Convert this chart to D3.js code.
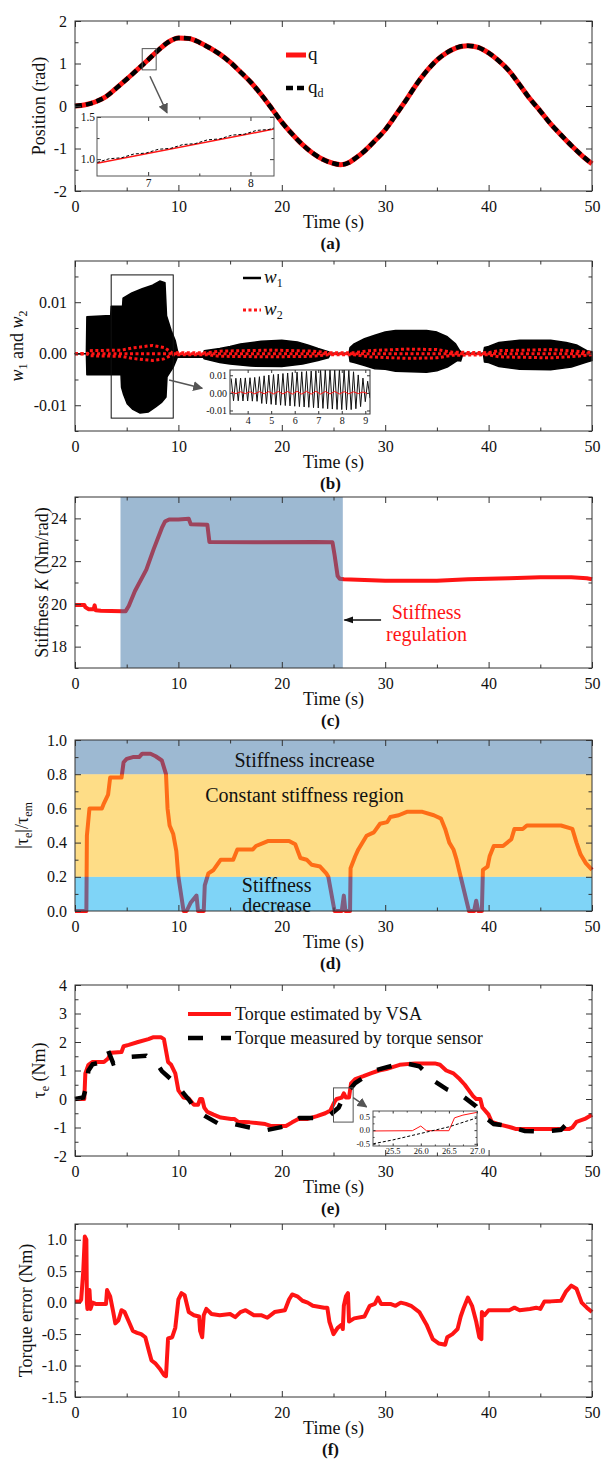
<html>
<head>
<meta charset="utf-8">
<style>
  body { margin: 0; background: #fff; }
</style>
</head>
<body>
<svg id="fig" width="602" height="1459"></svg>
<script src="https://d3js.org/d3.v7.min.js"></script>
<script>
// ---------- data ----------
var timeTicks = [0, 10, 20, 30, 40, 50];
var timeMinor = [5, 15, 25, 35, 45];

// (a) joint position q and desired position q_d  [t, rad]
var qPoints = [[0,0],[1,0.03],[2,0.1],[3,0.22],[4,0.42],[5,0.63],[6,0.85],[7,1.07],[8,1.3],[9,1.5],[10,1.6],[11,1.59],[12,1.5],[13,1.37],[14,1.22],[15,1.03],[16,0.8],[17,0.56],[18,0.27],[19,-0.05],[20,-0.38],[21,-0.66],[22,-0.91],[23,-1.11],[24,-1.26],[25,-1.35],[25.7,-1.38],[26.5,-1.33],[27,-1.25],[28,-1.06],[29,-0.82],[30,-0.56],[31,-0.22],[32,0.13],[33,0.5],[34,0.82],[35,1.08],[36,1.26],[37,1.38],[38,1.42],[39,1.38],[40,1.25],[41,1.06],[42,0.82],[43,0.5],[44,0.17],[45,-0.12],[46,-0.42],[47,-0.68],[48,-0.93],[49,-1.16],[50,-1.36]];
var qdPoints = [[0,0],[1,0.03],[2,0.1],[3,0.22],[4,0.42],[5,0.63],[6,0.85],[7,1.07],[8,1.3],[9,1.5],[10,1.6],[11,1.59],[12,1.5],[13,1.37],[14,1.22],[15,1.03],[16,0.8],[17,0.56],[18,0.27],[19,-0.05],[20,-0.38],[21,-0.66],[22,-0.91],[23,-1.11],[24,-1.26],[25,-1.35],[25.7,-1.38],[26.5,-1.33],[27,-1.25],[28,-1.06],[29,-0.82],[30,-0.56],[31,-0.22],[32,0.13],[33,0.5],[34,0.82],[35,1.08],[36,1.26],[37,1.38],[38,1.42],[39,1.38],[40,1.25],[41,1.06],[42,0.82],[43,0.5],[44,0.17],[45,-0.12],[46,-0.42],[47,-0.68],[48,-0.93],[49,-1.16],[50,-1.36]];
var qInset = [[6.5,0.952],[8.23,1.357]];
var qdInset = [[6.5,0.96],[6.62,1.005],[6.74,1.016],[6.86,1.061],[6.98,1.072],[7.1,1.117],[7.22,1.128],[7.34,1.173],[7.46,1.184],[7.58,1.229],[7.7,1.24],[7.82,1.285],[7.94,1.296],[8.06,1.341],[8.18,1.352],[8.23,1.37]];

// (b) envelopes of w1 and w2
var w1Upper = [[0,0],[1.1,0],[1.15,0.0072],[3.45,0.0074],[3.5,0.0092],[4.6,0.0092],[4.65,0.0108],[5.5,0.0118],[6.5,0.0126],[7.5,0.0133],[8.2,0.0141],[8.7,0.0138],[8.85,0.0074],[9.3,0.0045],[9.7,0.0025],[10.0,-0.0003],[12.4,-0.0003],[12.5,0.0006],[14,0.001],[15,0.0014],[16,0.0019],[18,0.0024],[20,0.0026],[21.5,0.0023],[22.5,0.0017],[23.5,0.001],[24.5,0.0004],[24.7,0.0001],[26.5,0.0001],[26.6,0.0012],[27,0.0019],[28,0.0029],[29,0.0036],[30,0.0042],[31,0.0045],[34,0.0045],[35,0.0042],[36,0.0033],[36.8,0.0019],[37.2,0.0006],[37.5,0.0001],[39.5,0.0001],[39.6,0.0012],[40,0.0014],[41,0.0022],[43,0.0026],[46,0.0026],[47.5,0.0022],[48.5,0.0017],[49.5,0.0006],[50,0.0004]];
var w1Lower = [[0,0],[1.1,0],[1.15,-0.0041],[4.45,-0.0041],[4.5,-0.0065],[4.7,-0.0079],[5.05,-0.0097],[5.6,-0.0108],[6.3,-0.0115],[7.1,-0.0113],[7.8,-0.0103],[8.4,-0.0094],[8.8,-0.0084],[8.9,-0.0045],[9.5,-0.0026],[9.9,-0.0007],[12.4,-0.0007],[12.5,-0.001],[14,-0.0017],[15,-0.002],[17,-0.0024],[20,-0.0025],[22,-0.002],[23.5,-0.0013],[24.5,-0.0008],[24.7,-0.0001],[26.5,-0.0001],[26.6,-0.0015],[27,-0.0017],[28,-0.0023],[29,-0.0029],[30,-0.003],[31,-0.0034],[34,-0.0036],[35,-0.0033],[36,-0.0026],[37,-0.0013],[37.3,-0.0014],[37.5,-0.0001],[39.5,-0.0001],[39.6,-0.0016],[40,-0.0017],[41,-0.0025],[43,-0.003],[46,-0.0031],[48,-0.0026],[49.5,-0.0016],[50,-0.0013]];
var w2Upper = [[0,0],[1.2,0],[1.4,0.0006],[4.5,0.0007],[5.5,0.0011],[7.5,0.0016],[8.6,0.0012],[9.4,0.0002],[12.8,0.0002],[14,0.0005],[19,0.0007],[23,0.0005],[24.5,0.0002],[27,0.0002],[28.5,0.0006],[32,0.0009],[35,0.0008],[36.5,0.0003],[40,0.0002],[41,0.0006],[46,0.0008],[48.5,0.0005],[50,0.0002]];
var w2Lower = [[0,0],[1.2,0],[1.4,-0.0004],[4.5,-0.0005],[5.5,-0.0009],[7.5,-0.0013],[8.6,-0.001],[9.4,-0.0002],[12.8,-0.0002],[14,-0.0005],[19,-0.0006],[23,-0.0005],[24.5,-0.0002],[27,-0.0002],[28.5,-0.0006],[32,-0.0009],[35,-0.0008],[36.5,-0.0003],[40,-0.0002],[41,-0.0006],[46,-0.0008],[48.5,-0.0005],[50,-0.0002]];
var w2Center = [[0,0],[50,0]];
// (b) inset: one peak and one trough per oscillation cycle
var w1InsetStart = 3.3, w1InsetPeriod = 0.2;
var w1InsetPeaks = [0.0082,0.0083,0.0084,0.0085,0.0086,0.0088,0.0092,0.0097,0.0101,0.0104,0.0107,0.011,0.0113,0.0116,0.0118,0.012,0.0122,0.0124,0.0126,0.0128,0.013,0.013,0.0131,0.0131,0.013,0.0128,0.012,0.0102,0.0084,0.0066];
var w1InsetTroughs = [-0.0045,-0.0045,-0.0046,-0.0046,-0.0047,-0.0048,-0.006,-0.0062,-0.0065,-0.0068,-0.007,-0.0072,-0.0074,-0.0076,-0.0078,-0.008,-0.0082,-0.0084,-0.0086,-0.0088,-0.009,-0.0092,-0.0094,-0.0095,-0.0096,-0.0095,-0.009,-0.0078,-0.005,-0.003];
var w2InsetStart = 3.3, w2InsetPeriod = 0.4;
var w2InsetPeaks = [0.0005,0.0006,0.0006,0.0007,0.0007,0.0008,0.0008,0.0009,0.0009,0.0009,0.0008,0.0008,0.0007,0.0006,0.0005];
var w2InsetTroughs = [-0.0004,-0.0004,-0.0005,-0.0005,-0.0006,-0.0006,-0.0007,-0.0007,-0.0007,-0.0007,-0.0006,-0.0006,-0.0005,-0.0004,-0.0004];

// (c) stiffness K [t, Nm/rad]
var stiffness = [[0,19.95],[0.9,19.95],[1.0,19.85],[1.3,19.75],[1.8,19.75],[1.9,19.93],[2.0,19.7],[2.5,19.68],[3.5,19.67],[4.6,19.65],[4.9,19.66],[5.2,19.9],[5.8,20.6],[6.9,21.6],[7.6,22.55],[8.4,23.55],[8.7,23.85],[9.1,23.95],[10,23.95],[11,23.98],[11.2,23.72],[12.8,23.7],[13.0,22.9],[18,22.88],[23.2,22.9],[24.9,22.88],[25.1,22.3],[25.4,21.3],[25.6,21.18],[26,21.15],[30,21.08],[35,21.08],[38,21.15],[42,21.2],[45,21.25],[48,21.25],[49.5,21.2],[50,21.15]];
var regulationSpan = [4.4, 25.9];

// (d) |tau_e| / tau_em
var torqueRatio = [[0,0],[1.1,0],[1.15,0.44],[1.4,0.6],[2.6,0.6],[2.8,0.63],[3.2,0.68],[3.4,0.78],[4.5,0.78],[4.7,0.87],[5.0,0.89],[5.6,0.9],[6.2,0.9],[6.5,0.92],[7.3,0.92],[7.8,0.905],[8.4,0.88],[8.8,0.8],[8.95,0.6],[9.15,0.5],[9.5,0.45],[9.8,0.35],[10.0,0.2],[10.3,0.08],[10.5,0],[10.8,0],[11.2,0.05],[11.75,0.09],[11.9,0],[12.45,0],[12.55,0.15],[12.9,0.22],[13.4,0.24],[14.1,0.3],[15.3,0.3],[15.7,0.36],[17.2,0.36],[17.5,0.38],[18.3,0.4],[18.7,0.41],[20.7,0.41],[21.3,0.39],[21.8,0.31],[22.4,0.3],[22.9,0.27],[23.7,0.26],[24.3,0.22],[24.5,0.2],[25.1,0],[25.8,0],[26.0,0.09],[26.15,0],[26.6,0],[26.65,0.25],[27.1,0.32],[27.4,0.36],[28.2,0.44],[28.9,0.46],[29.5,0.51],[30.2,0.52],[30.5,0.55],[31.3,0.56],[32.1,0.58],[33.6,0.58],[34.7,0.56],[35.4,0.54],[35.8,0.48],[36.2,0.4],[36.6,0.36],[36.9,0.3],[37.3,0.2],[38.1,0],[38.6,0],[38.8,0.06],[39.0,0],[39.35,0],[39.45,0.24],[39.9,0.26],[40.1,0.32],[40.5,0.38],[41.4,0.38],[42.2,0.42],[42.5,0.48],[43.3,0.48],[43.7,0.5],[47,0.5],[48.1,0.48],[48.5,0.4],[48.9,0.33],[49.4,0.28],[50,0.24]];
var bandEdges = [0, 0.2, 0.8, 1.0];
var bandNames = ["Stiffness decrease", "Constant stiffness region", "Stiffness increase"];

// (e) external torque: estimated by VSA vs measured by sensor [t, Nm]
var torqueEstimated = [[0,0],[0.9,0],[1.0,0.9],[1.3,1.2],[1.7,1.3],[2.8,1.3],[3.2,1.42],[3.5,1.62],[4.5,1.65],[4.7,1.85],[5.2,1.9],[6.1,2.0],[7.1,2.1],[7.6,2.17],[8.3,2.17],[8.6,2.1],[9.0,1.3],[9.3,1.2],[9.7,0.9],[10.0,0.3],[10.5,0.05],[11.0,0.02],[11.5,-0.2],[11.9,-0.2],[12.1,0.0],[12.3,0],[12.5,-0.3],[12.8,-0.45],[13.4,-0.55],[14.1,-0.65],[15.1,-0.7],[15.4,-0.7],[15.8,-0.8],[16.9,-0.82],[18.4,-0.88],[19.0,-0.95],[20.4,-0.95],[21.0,-0.82],[21.6,-0.7],[22.5,-0.7],[23.4,-0.6],[24.2,-0.5],[24.7,-0.4],[25.1,-0.1],[25.3,0],[25.8,0.05],[26.0,0.2],[26.2,0.05],[26.5,0.05],[26.7,0.55],[27.1,0.7],[27.9,0.8],[28.6,0.9],[29.4,1.0],[30.1,1.05],[31.4,1.2],[32.9,1.25],[34.8,1.25],[35.3,1.2],[35.9,1.0],[36.6,0.9],[37.2,0.7],[37.7,0.5],[38.5,0.1],[38.8,0],[39.2,0],[39.4,-0.3],[40.0,-0.55],[40.3,-0.8],[41.1,-0.9],[42.2,-1.0],[42.6,-1.05],[47.8,-1.05],[48.1,-1.0],[48.5,-0.8],[49.3,-0.7],[50,-0.55]];
var torqueMeasured = [[0,0],[0.8,0.05],[1.0,0.3],[1.3,1.0],[1.7,1.22],[2.4,1.28],[3.2,1.7],[3.7,1.25],[4.5,1.35],[5.4,1.48],[6.9,1.52],[7.8,1.3],[8.4,0.98],[9.7,0.56],[10.5,0.2],[11.0,-0.02],[11.7,-0.38],[12.6,-0.6],[13.8,-0.85],[15.1,-0.86],[16.9,-1.0],[18.4,-1.1],[20.3,-0.96],[21.7,-0.67],[23.2,-0.67],[24.7,-0.55],[25.5,-0.3],[26.0,0.1],[27.1,0.56],[29,1.0],[30,1.1],[31.8,1.27],[33.3,1.15],[34.8,0.62],[36,0.33],[37.5,0.1],[38.8,-0.26],[39.5,-0.6],[40.5,-0.88],[41.4,-0.92],[43.5,-1.12],[45.2,-1.15],[47,-1.08],[48.1,-0.67],[48.5,-0.55]];
var torqueEstInset = [[25.15,-0.03],[25.85,-0.02],[26.0,0.15],[26.1,-0.02],[26.5,-0.02],[26.6,0.45],[26.75,0.55],[27.0,0.65]];
var torqueMeasInset = [[25.15,-0.5],[25.5,-0.36],[26.0,-0.12],[26.5,0.12],[27.0,0.45]];

// (f) torque error [t, Nm]
var torqueError = [[0,0.02],[0.5,0.02],[0.6,0.05],[0.8,0.5],[0.95,1.05],[1.1,1.0],[1.15,0.0],[1.2,-0.1],[1.4,0.2],[1.5,-0.1],[1.7,0.0],[2.0,-0.02],[3.0,-0.02],[3.1,0.2],[3.4,0.1],[3.7,-0.15],[3.9,-0.33],[4.2,-0.28],[4.5,-0.12],[4.8,-0.15],[5.2,-0.3],[5.6,-0.45],[6.0,-0.48],[6.4,-0.5],[6.8,-0.55],[7.2,-0.8],[7.4,-0.92],[7.8,-0.97],[8.2,-1.05],[8.6,-1.15],[8.8,-1.17],[9.0,-0.57],[9.4,-0.55],[9.7,-0.4],[10.0,0.05],[10.3,0.15],[10.6,0.12],[11.0,-0.15],[11.5,-0.2],[12.0,-0.22],[12.1,-0.45],[12.3,-0.55],[12.45,-0.2],[12.7,-0.1],[13.2,-0.18],[14.0,-0.2],[15.0,-0.18],[15.5,-0.23],[16.0,-0.15],[16.5,-0.12],[17.3,-0.2],[18.0,-0.2],[18.6,-0.24],[19.3,-0.15],[20.3,-0.12],[20.7,0.05],[21.0,0.13],[21.5,0.1],[22.0,0.03],[22.5,0.0],[23.0,-0.05],[24.1,-0.08],[24.4,-0.08],[24.6,-0.3],[25.0,-0.5],[25.4,-0.4],[25.8,-0.35],[25.9,-0.42],[26.0,-0.05],[26.2,0.1],[26.4,0.15],[26.5,-0.3],[27.0,-0.25],[28.0,-0.22],[28.5,-0.05],[29.0,-0.02],[29.3,0.08],[29.6,-0.02],[30.5,-0.02],[31.0,-0.05],[31.5,0.0],[32.0,-0.02],[32.5,-0.05],[33.3,-0.15],[34.0,-0.35],[34.6,-0.58],[35.2,-0.65],[35.8,-0.67],[36.0,-0.55],[36.5,-0.5],[37.0,-0.42],[37.3,-0.22],[37.6,-0.08],[38.0,0.08],[38.4,-0.05],[38.8,-0.3],[39.1,-0.55],[39.3,-0.58],[39.35,-0.15],[39.6,-0.2],[40.0,-0.12],[41.0,-0.12],[42.0,-0.12],[42.5,-0.08],[43.0,-0.12],[44.0,-0.1],[44.6,-0.08],[45.0,-0.1],[45.4,0.02],[46.0,0.02],[47.0,0.03],[47.5,0.18],[48.0,0.27],[48.5,0.22],[49.0,0.0],[49.5,-0.08],[50.0,-0.15]];

// ---------- drawing ----------
var svg = d3.select("#fig");
var serif = '"Liberation Serif", "Times New Roman", serif';
var plotLeft = 75, plotRight = 592;
var RED = "#ff1414";
var locale = d3.formatLocale({decimal: ".", thousands: ",", grouping: [3], currency: ["", ""], minus: "-"});

svg.append("rect").attr("width", 602).attr("height", 1459).attr("fill", "#fff");

var defs = svg.append("defs");
function marker(id, color, path) {
  defs.append("marker").attr("id", id)
    .attr("viewBox", "0 0 10 10").attr("refX", 9).attr("refY", 5)
    .attr("markerWidth", 10).attr("markerHeight", 10)
    .attr("markerUnits", "userSpaceOnUse").attr("orient", "auto")
    .append("path").attr("d", path).attr("fill", color);
}
marker("headGray", "#555", "M0,0 L10,5 L0,10 z");
marker("headBlack", "#111", "M0,1.5 L10,5 L0,8.5 z");

function fmt(f) { return locale.format(f); }

function ticks(g, gen, tx, ty, fs) {
  var a = g.append("g").attr("transform", "translate(" + tx + "," + ty + ")").call(gen);
  a.select(".domain").remove();
  a.selectAll("line").attr("stroke", "#333");
  a.selectAll("text").attr("font-family", serif).attr("font-size", fs).attr("fill", "#111");
  return a;
}

// frame with inward ticks on all four sides
function drawBox(g, x, y, o) {
  var x0 = x.range()[0], x1 = x.range()[1], yb = y.range()[0], yt = y.range()[1];
  var b = g.append("g");
  ticks(b, d3.axisBottom(x).tickValues(o.xTicks).tickSize(-o.major).tickPadding(o.padX).tickFormat(o.xFmt), 0, yb, o.fs);
  ticks(b, d3.axisTop(x).tickValues(o.xTicks).tickSize(-o.major).tickFormat(""), 0, yt, o.fs);
  ticks(b, d3.axisLeft(y).tickValues(o.yTicks).tickSize(-o.major).tickPadding(o.padY).tickFormat(o.yFmt), x0, 0, o.fs);
  ticks(b, d3.axisRight(y).tickValues(o.yTicks).tickSize(-o.major).tickFormat(""), x1, 0, o.fs);
  if (o.xMinor) {
    ticks(b, d3.axisBottom(x).tickValues(o.xMinor).tickSize(-o.minor).tickFormat(""), 0, yb, o.fs);
    ticks(b, d3.axisTop(x).tickValues(o.xMinor).tickSize(-o.minor).tickFormat(""), 0, yt, o.fs);
  }
  if (o.yMinor) {
    ticks(b, d3.axisLeft(y).tickValues(o.yMinor).tickSize(-o.minor).tickFormat(""), x0, 0, o.fs);
    ticks(b, d3.axisRight(y).tickValues(o.yMinor).tickSize(-o.minor).tickFormat(""), x1, 0, o.fs);
  }
  b.append("rect").attr("x", x0).attr("y", yt).attr("width", x1 - x0).attr("height", yb - yt)
    .attr("fill", "none").attr("stroke", o.color || "#333").attr("stroke-width", 1);
}

function makePanel(top, bottom, yDomain) {
  return {
    g: svg.append("g"),
    x: d3.scaleLinear().domain([0, 50]).range([plotLeft, plotRight]),
    y: d3.scaleLinear().domain(yDomain).range([bottom, top]),
    top: top, bottom: bottom
  };
}

function finishPanel(p, o) {
  drawBox(p.g, p.x, p.y, {
    xTicks: timeTicks, xMinor: timeMinor, yTicks: o.yTicks, yMinor: o.yMinor,
    xFmt: fmt("d"), yFmt: fmt(o.yFmt), major: 6, minor: 3.5, padX: 10, padY: 8, fs: 16
  });
  var cx = (plotLeft + plotRight) / 2;
  p.g.append("text").attr("x", cx).attr("y", p.bottom + 37).attr("text-anchor", "middle")
    .attr("font-family", serif).attr("font-size", 18).attr("fill", "#111").text("Time (s)");
  p.g.append("text").attr("x", cx - 3).attr("y", p.bottom + 58).attr("text-anchor", "middle")
    .attr("font-family", serif).attr("font-size", 17).attr("font-weight", "bold").attr("fill", "#111").text(o.label);
  var t = p.g.append("text")
    .attr("transform", "translate(" + o.titleX + "," + (p.top + p.bottom) / 2 + ") rotate(-90)")
    .attr("y", 6).attr("text-anchor", "middle")
    .attr("font-family", serif).attr("font-size", 18).attr("fill", "#111");
  o.title(t);
}

function sub(t, s) { t.append("tspan").attr("dy", 4).attr("font-size", 12).attr("font-style", "normal").text(s); }

function lineOf(p) { return d3.line().x(function(d) { return p.x(d[0]); }).y(function(d) { return p.y(d[1]); }); }

function arrow(p, from, to, head, color, w) {
  p.g.append("line").attr("x1", p.x(from[0])).attr("y1", p.y(from[1])).attr("x2", p.x(to[0])).attr("y2", p.y(to[1]))
    .attr("stroke", color).attr("stroke-width", w).attr("marker-end", "url(#" + head + ")");
}

function zoomRect(p, t0, t1, v0, v1, color) {
  p.g.append("rect").attr("x", p.x(t0)).attr("y", p.y(v1)).attr("width", p.x(t1) - p.x(t0)).attr("height", p.y(v0) - p.y(v1))
    .attr("fill", "none").attr("stroke", color).attr("stroke-width", 1);
}

function makeInset(g, box, xd, yd, id) {
  var ins = {
    g: g.append("g"),
    x: d3.scaleLinear().domain(xd).range([box.x, box.x + box.w]),
    y: d3.scaleLinear().domain(yd).range([box.y + box.h, box.y])
  };
  ins.g.append("rect").attr("x", box.x).attr("y", box.y).attr("width", box.w).attr("height", box.h).attr("fill", "#fff");
  defs.append("clipPath").attr("id", id).append("rect").attr("x", box.x).attr("y", box.y).attr("width", box.w).attr("height", box.h);
  ins.plot = ins.g.append("g").attr("clip-path", "url(#" + id + ")");
  return ins;
}

// ===== (a) =====
var pa = makePanel(21, 191, [-2, 2]);
var la = lineOf(pa).curve(d3.curveMonotoneX);
pa.g.append("path").attr("d", la(qPoints)).attr("fill", "none").attr("stroke", RED).attr("stroke-width", 5);
pa.g.append("path").attr("d", la(qdPoints)).attr("fill", "none").attr("stroke", "#000").attr("stroke-width", 4.5).attr("stroke-dasharray", "7,4");
zoomRect(pa, 6.5, 7.85, 0.85, 1.35, "#555");
arrow(pa, [7.25, 0.7], [8.9, -0.16], "headGray", "#555", 1.5);
var ia = makeInset(pa.g, {x: 97, y: 117, w: 177, h: 59}, [6.5, 8.23], [0.8, 1.5], "clipA");
var lia = lineOf(ia);
ia.plot.append("path").attr("d", lia(qInset)).attr("fill", "none").attr("stroke", RED).attr("stroke-width", 1.5);
ia.plot.append("path").attr("d", lia(qdInset)).attr("fill", "none").attr("stroke", "#000").attr("stroke-width", 1).attr("stroke-dasharray", "3,2");
drawBox(ia.g, ia.x, ia.y, {xTicks: [7, 8], xMinor: [7.5], yTicks: [1.0, 1.5], yMinor: [1.25],
  xFmt: fmt("d"), yFmt: fmt(".1f"), major: 4, minor: 2.5, padX: 3, padY: 2, fs: 11.5, color: "#555"});
// legend
pa.g.append("line").attr("x1", 286).attr("x2", 306).attr("y1", 55).attr("y2", 55).attr("stroke", RED).attr("stroke-width", 5);
pa.g.append("text").attr("x", 308).attr("y", 60).attr("font-family", serif).attr("font-size", 19).attr("fill", "#111").text("q");
pa.g.append("line").attr("x1", 286).attr("x2", 306).attr("y1", 88).attr("y2", 88).attr("stroke", "#000").attr("stroke-width", 4.5).attr("stroke-dasharray", "7,4");
var qdLab = pa.g.append("text").attr("x", 308).attr("y", 93).attr("font-family", serif).attr("font-size", 19).attr("fill", "#111").text("q");
sub(qdLab, "d");
finishPanel(pa, {yTicks: [-2, -1, 0, 1, 2], yMinor: [-1.5, -0.5, 0.5, 1.5], yFmt: "d", label: "(a)", titleX: 39,
  title: function(t) { t.text("Position (rad)"); }});

// ===== (b) =====
var pb = makePanel(261, 431, [-0.015, 0.018]);
var lb = lineOf(pb);
pb.g.append("path").attr("d", lb(w1Upper.concat(w1Lower.slice().reverse())) + "Z")
  .attr("fill", "#000").attr("stroke", "#000").attr("stroke-width", 1.5).attr("stroke-linejoin", "round");
[w2Upper, w2Lower, w2Center].forEach(function(s) {
  pb.g.append("path").attr("d", lb(s)).attr("fill", "none").attr("stroke", RED).attr("stroke-width", 3).attr("stroke-dasharray", "3,2.5");
});
zoomRect(pb, 3.5, 9.5, -0.0125, 0.0153, "#111");
arrow(pb, [9.1, -0.0051], [12.3, -0.0067], "headGray", "#555", 1.5);
var ib = makeInset(pb.g, {x: 230, y: 370, w: 140, h: 44}, [3.25, 9.2], [-0.012, 0.013], "clipB");
var zig1 = [], zig2 = [];
w1InsetPeaks.forEach(function(v, i) {
  zig1.push([w1InsetStart + i * w1InsetPeriod, v]);
  zig1.push([w1InsetStart + (i + 0.5) * w1InsetPeriod, w1InsetTroughs[i]]);
});
w2InsetPeaks.forEach(function(v, i) {
  zig2.push([w2InsetStart + i * w2InsetPeriod, v]);
  zig2.push([w2InsetStart + (i + 0.5) * w2InsetPeriod, w2InsetTroughs[i]]);
});
var lib = lineOf(ib);
ib.plot.append("path").attr("d", lib(zig1)).attr("fill", "none").attr("stroke", "#111").attr("stroke-width", 1);
ib.plot.append("path").attr("d", lib(zig2)).attr("fill", "none").attr("stroke", RED).attr("stroke-width", 1);
drawBox(ib.g, ib.x, ib.y, {xTicks: [4, 5, 6, 7, 8, 9], yTicks: [-0.01, 0, 0.01],
  xFmt: fmt("d"), yFmt: fmt(".2f"), major: 3, minor: 2, padX: 3, padY: 3, fs: 10, color: "#333"});
// legend
pb.g.append("line").attr("x1", 243).attr("x2", 261).attr("y1", 278).attr("y2", 278).attr("stroke", "#000").attr("stroke-width", 2.5);
var w1Lab = pb.g.append("text").attr("x", 264).attr("y", 283).attr("font-family", serif).attr("font-size", 19).attr("fill", "#111");
w1Lab.append("tspan").attr("font-style", "italic").text("w");
sub(w1Lab, "1");
pb.g.append("line").attr("x1", 243).attr("x2", 261).attr("y1", 310).attr("y2", 310).attr("stroke", RED).attr("stroke-width", 3).attr("stroke-dasharray", "3,2.5");
var w2Lab = pb.g.append("text").attr("x", 264).attr("y", 315).attr("font-family", serif).attr("font-size", 19).attr("fill", "#111");
w2Lab.append("tspan").attr("font-style", "italic").text("w");
sub(w2Lab, "2");
finishPanel(pb, {yTicks: [-0.01, 0, 0.01], yMinor: [-0.015, -0.005, 0.005, 0.015], yFmt: ".2f", label: "(b)", titleX: 17,
  title: function(t) {
    t.append("tspan").attr("font-style", "italic").text("w");
    t.append("tspan").attr("dy", 4).attr("font-size", 12).text("1");
    t.append("tspan").attr("dy", -4).text(" and ");
    t.append("tspan").attr("font-style", "italic").text("w");
    t.append("tspan").attr("dy", 4).attr("font-size", 12).text("2");
  }});

// ===== (c) =====
var pc = makePanel(497, 668, [17, 25]);
pc.g.append("path").attr("d", lineOf(pc)(stiffness)).attr("fill", "none").attr("stroke", RED).attr("stroke-width", 4).attr("stroke-linejoin", "round");
pc.g.append("rect").attr("x", pc.x(regulationSpan[0])).attr("y", pc.top)
  .attr("width", pc.x(regulationSpan[1]) - pc.x(regulationSpan[0])).attr("height", pc.bottom - pc.top)
  .attr("fill", "rgb(60,115,165)").attr("fill-opacity", 0.5);
arrow(pc, [29.6, 19.25], [26.05, 19.25], "headBlack", "#111", 1.5);
pc.g.append("text").attr("x", pc.x(34)).attr("y", pc.y(19.3)).attr("text-anchor", "middle")
  .attr("font-family", serif).attr("font-size", 20).attr("fill", RED).text("Stiffness");
pc.g.append("text").attr("x", pc.x(34)).attr("y", pc.y(18.25)).attr("text-anchor", "middle")
  .attr("font-family", serif).attr("font-size", 20).attr("fill", RED).text("regulation");
finishPanel(pc, {yTicks: [18, 20, 22, 24], yMinor: [17, 19, 21, 23, 25], yFmt: "d", label: "(c)", titleX: 42,
  title: function(t) {
    t.append("tspan").text("Stiffness ");
    t.append("tspan").attr("font-style", "italic").text("K");
    t.append("tspan").text(" (Nm/rad)");
  }});

// ===== (d) =====
var pd = makePanel(740, 911, [0, 1]);
pd.g.append("path").attr("d", lineOf(pd)(torqueRatio)).attr("fill", "none").attr("stroke", RED).attr("stroke-width", 4).attr("stroke-linejoin", "round");
var bandFill = ["rgb(0,170,240)", "rgb(253,190,27)", "rgb(60,115,165)"];
var bandAlpha = [0.5, 0.525, 0.5];
pd.g.selectAll("rect.band").data(bandNames).enter().append("rect").attr("class", "band")
  .attr("x", plotLeft).attr("width", plotRight - plotLeft)
  .attr("y", function(d, i) { return pd.y(bandEdges[i + 1]); })
  .attr("height", function(d, i) { return pd.y(bandEdges[i]) - pd.y(bandEdges[i + 1]); })
  .attr("fill", function(d, i) { return bandFill[i]; })
  .attr("fill-opacity", function(d, i) { return bandAlpha[i]; });
var dText = function(txt, t, v) {
  pd.g.append("text").attr("x", pd.x(t)).attr("y", pd.y(v)).attr("text-anchor", "middle")
    .attr("font-family", serif).attr("font-size", 20).attr("fill", "#111").text(txt);
};
dText(bandNames[2], 22.2, 0.84);
dText(bandNames[1], 22.2, 0.635);
dText("Stiffness", 19.5, 0.11);
dText("decrease", 19.5, -0.005);
finishPanel(pd, {yTicks: [0, 0.2, 0.4, 0.6, 0.8, 1.0], yMinor: [0.1, 0.3, 0.5, 0.7, 0.9], yFmt: ".1f", label: "(d)", titleX: 22,
  title: function(t) {
    t.append("tspan").text("|\u03c4");
    t.append("tspan").attr("dy", 4).attr("font-size", 12).text("e");
    t.append("tspan").attr("dy", -4).text("|/\u03c4");
    t.append("tspan").attr("dy", 4).attr("font-size", 12).text("em");
  }});

// ===== (e) =====
var pe = makePanel(985, 1156, [-2, 4]);
var le = lineOf(pe);
pe.g.append("path").attr("d", le(torqueEstimated)).attr("fill", "none").attr("stroke", RED).attr("stroke-width", 4).attr("stroke-linejoin", "round");
pe.g.append("path").attr("d", le(torqueMeasured)).attr("fill", "none").attr("stroke", "#000").attr("stroke-width", 4.5).attr("stroke-dasharray", "15,18");
zoomRect(pe, 25.0, 26.9, -0.81, 0.39, "#555");
arrow(pe, [26.9, 0.05], [28.2, -0.28], "headGray", "#555", 1.5);
var ie = makeInset(pe.g, {x: 373, y: 1111, w: 104, h: 35}, [25.15, 27.0], [-0.58, 0.7], "clipE");
var lie = lineOf(ie);
ie.plot.append("path").attr("d", lie(torqueEstInset)).attr("fill", "none").attr("stroke", RED).attr("stroke-width", 1);
ie.plot.append("path").attr("d", lie(torqueMeasInset)).attr("fill", "none").attr("stroke", "#000").attr("stroke-width", 1).attr("stroke-dasharray", "3,2");
drawBox(ie.g, ie.x, ie.y, {xTicks: [25.5, 26, 26.5, 27], xMinor: [25.25, 25.75, 26.25, 26.75], yTicks: [-0.5, 0, 0.5], yMinor: [-0.25, 0.25],
  xFmt: fmt(".1f"), yFmt: fmt(".1f"), major: 2.5, minor: 1.5, padX: 2, padY: 3, fs: 8.5, color: "#555"});
// legend
pe.g.append("line").attr("x1", 188).attr("x2", 231).attr("y1", 1014).attr("y2", 1014).attr("stroke", RED).attr("stroke-width", 4);
pe.g.append("text").attr("x", 235).attr("y", 1020).attr("font-family", serif).attr("font-size", 18).attr("fill", "#111").text("Torque estimated by VSA");
pe.g.append("line").attr("x1", 188).attr("x2", 231).attr("y1", 1038).attr("y2", 1038).attr("stroke", "#000").attr("stroke-width", 4.5).attr("stroke-dasharray", "15,18");
pe.g.append("text").attr("x", 235).attr("y", 1044).attr("font-family", serif).attr("font-size", 18).attr("fill", "#111").text("Torque measured by torque sensor");
finishPanel(pe, {yTicks: [-2, -1, 0, 1, 2, 3, 4], yMinor: [-1.5, -0.5, 0.5, 1.5, 2.5, 3.5], yFmt: "d", label: "(e)", titleX: 39,
  title: function(t) {
    t.append("tspan").text("\u03c4");
    t.append("tspan").attr("dy", 4).attr("font-size", 12).text("e");
    t.append("tspan").attr("dy", -4).text(" (Nm)");
  }});

// ===== (f) =====
var pf = makePanel(1224, 1397, [-1.5, 1.25]);
pf.g.append("path").attr("d", lineOf(pf)(torqueError)).attr("fill", "none").attr("stroke", RED).attr("stroke-width", 4).attr("stroke-linejoin", "round");
finishPanel(pf, {yTicks: [-1.5, -1, -0.5, 0, 0.5, 1], yMinor: [-1.25, -0.75, -0.25, 0.25, 0.75, 1.25], yFmt: ".1f", label: "(f)", titleX: 26,
  title: function(t) { t.text("Torque error (Nm)"); }});
</script>
</body>
</html>
